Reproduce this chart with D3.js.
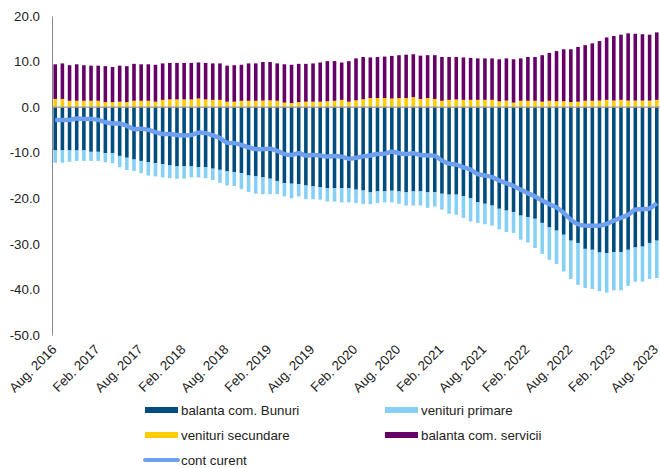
<!DOCTYPE html>
<html>
<head>
<meta charset="utf-8">
<script src="https://cdn.jsdelivr.net/npm/d3@7"></script>
<style>
  body { margin: 0; background: #fff; }
  text { font-family: "Liberation Sans", Arial, sans-serif; fill: #222; }
</style>
</head>
<body>
<svg width="660" height="468"></svg>
<script>
// monthly, Aug. 2016 .. Aug. 2023
var months = d3.timeMonth.range(new Date(2016, 7, 1), new Date(2023, 8, 1));

var tickLabels = ["Aug. 2016","Feb. 2017","Aug. 2017","Feb. 2018","Aug. 2018","Feb. 2019","Aug. 2019",
  "Feb. 2020","Aug. 2020","Feb. 2021","Aug. 2021","Feb. 2022","Aug. 2022","Feb. 2023","Aug. 2023"];

var yTicks = [20, 10, 0, -10, -20, -30, -40, -50];

var bunuri = [-9.5,-9.5,-9.5,-9.5,-9.5,-9.8,-9.8,-10.1,-10.1,-10.7,-11.1,-11.5,-11.8,-12.1,-12.3,-12.5,-12.8,-13.0,-13.0,-13.0,-13.2,-13.2,-13.5,
  -13.75,-14.1,-14.3,-14.5,-15.0,-15.2,-15.4,-15.7,-16.2,-16.7,-16.8,-16.9,-17.2,-17.4,-17.6,-17.8,-17.8,-17.8,-17.8,-18.1,-18.3,-18.7,-18.5,-18.5,-18.35,-18.5,-18.7,-18.5,
  -18.5,-18.7,-18.7,-19.0,-19.2,-19.2,-19.5,-20.0,-20.9,-21.2,-21.6,-22.3,-22.7,-23.0,-23.8,-24.1,-24.5,-25.4,-26.4,-27.1,-28.0,-29.3,-29.8,-31.1,-31.3,-31.9,-32.0,-31.8,-31.8,-31.3,-30.8,-30.6,-29.8,-29.3];

var primare = [-2.7,-2.7,-2.5,-2.3,-2.3,-2.0,-2.0,-2.0,-2.2,-2.5,-2.7,-2.5,-2.7,-2.9,-2.9,-2.9,-2.8,-2.7,-2.7,-2.4,-2.2,-2.4,-2.5,
  -2.85,-3.1,-3.0,-3.5,-3.6,-3.8,-3.7,-3.4,-2.9,-2.9,-3.2,-2.7,-3.0,-2.8,-2.7,-2.9,-2.9,-3.1,-3.1,-2.95,-3.0,-2.6,-2.55,-2.4,-2.55,-2.7,-2.9,-3.1,
  -3.1,-3.4,-3.1,-3.5,-4.2,-4.4,-4.8,-5.1,-4.5,-4.5,-4.4,-4.5,-4.7,-4.6,-5.3,-5.6,-6.4,-6.8,-7.1,-7.3,-8.05,-8.4,-9.2,-8.6,-8.6,-8.5,-8.7,-8.4,-8.4,-7.9,-7.5,-7.7,-7.9,-8.2];

var secundare = [1.8,1.8,1.4,1.4,1.4,1.4,1.4,1.1,1.1,1.2,1.1,1.4,1.4,1.4,1.2,1.6,1.7,1.7,1.7,1.7,1.9,1.7,1.6,
  1.6,1.2,1.2,1.4,1.4,1.4,1.45,1.5,1.4,1.0,0.9,1.1,1.2,1.2,1.2,1.3,1.4,1.6,1.2,1.5,1.75,2.0,2.0,2.0,1.9,2.0,2.0,2.2,
  1.8,2.0,1.8,1.4,1.6,1.7,1.6,1.6,1.6,1.6,1.6,1.3,1.45,1.0,1.4,1.4,1.4,1.2,1.4,1.3,1.3,1.1,1.2,1.4,1.4,1.45,1.6,1.45,1.6,1.45,1.45,1.45,1.45,1.6];

var servicii = [7.6,7.8,7.8,8.0,7.8,7.7,7.7,7.9,7.7,7.9,7.9,8.1,8.0,8.0,8.1,8.0,8.0,8.0,8.0,8.0,7.9,8.0,8.0,
  8.0,7.9,8.0,7.9,8.2,8.2,8.45,8.4,8.2,8.4,8.4,8.4,8.3,8.4,8.6,8.8,8.7,8.2,8.9,9.2,9.25,8.9,9.0,9.1,9.35,9.4,9.5,9.4,
  9.5,9.4,9.6,9.6,9.4,9.3,9.3,9.2,9.1,9.1,9.1,9.2,9.25,9.5,9.3,9.6,9.6,10.2,10.5,11.0,11.4,11.6,12.0,12.2,12.6,13.05,13.7,14.15,14.3,14.75,14.65,14.55,14.45,14.8];

var contCurent = [-2.8,-2.8,-2.8,-2.5,-2.6,-2.6,-2.8,-3.3,-3.6,-3.6,-4.1,-4.8,-4.75,-5.0,-5.5,-5.9,-5.9,-6.1,-6.2,-6.1,-5.6,-5.7,-6.2,
  -6.8,-7.8,-7.9,-8.3,-8.8,-9.2,-9.2,-9.15,-9.6,-10.3,-10.5,-10.1,-10.6,-10.5,-10.6,-10.85,-10.7,-10.85,-11.3,-11.1,-10.8,-10.6,-10.3,-10.2,-9.8,-10.1,-10.3,-10.1,
  -10.5,-10.6,-10.7,-11.7,-12.4,-12.6,-13.2,-13.7,-14.7,-15.0,-15.35,-16.1,-16.7,-17.3,-18.1,-18.9,-19.6,-20.5,-21.3,-22.0,-23.2,-24.7,-25.7,-26.0,-26.0,-26.0,-25.6,-24.9,-24.3,-23.6,-22.5,-22.4,-22.2,-21.05];

var seriesNames = ["balanta com. Bunuri", "venituri primare", "venituri secundare", "balanta com. servicii"];
var lineName = "cont curent";
var colors = ["#004c7f", "#87d0f5", "#ffcc00", "#660066"];
var lineColor = "#6fa0ef";

var rows = months.map(function(m, i) {
  return { i: i, bunuri: bunuri[i], primare: primare[i], secundare: secundare[i], servicii: servicii[i] };
});

var svg = d3.select("svg");
// plot box (window.top is reserved, so no "top" here)
var plotLeft = 52, plotRight = 660, plotTop = 16, plotBottom = 335;

var x = d3.scaleBand()
    .domain(months.map(function(d, i) { return i; }))
    .range([plotLeft, plotRight])
    .paddingInner(0.5)
    .paddingOuter(0.2);

var y = d3.scaleLinear().domain([-50, 20]).range([plotBottom, plotTop]);

var stack = d3.stack()
    .keys(["bunuri", "primare", "secundare", "servicii"])
    .offset(d3.stackOffsetDiverging);

var layers = stack(rows);

svg.append("g").selectAll("g")
    .data(layers)
  .enter().append("g")
    .attr("fill", function(d, k) { return colors[k]; })
  .selectAll("rect")
    .data(function(d) { return d; })
  .enter().append("rect")
    .attr("x", function(d) { return x(d.data.i); })
    .attr("width", x.bandwidth())
    .attr("y", function(d) { return y(d[1]); })
    .attr("height", function(d) { return y(d[0]) - y(d[1]); });

// zero line
svg.append("line")
    .attr("x1", plotLeft).attr("x2", plotRight)
    .attr("y1", y(0)).attr("y2", y(0))
    .attr("stroke", "#999").attr("stroke-width", 1.3);

// y axis
var yAxis = svg.append("g")
    .attr("transform", "translate(" + plotLeft + ",0)")
    .call(d3.axisLeft(y).tickValues(yTicks).tickSize(0).tickSizeOuter(0).tickPadding(12)
      .tickFormat(function(d) { return d.toFixed(1); }));
yAxis.select(".domain").attr("stroke", "#888");
yAxis.selectAll("text").style("font-size", "13.3px").style("font-family", "Liberation Sans, Arial, sans-serif").attr("fill", "#222");

// x axis, a label every 6 months
var xAxis = svg.append("g")
    .attr("transform", "translate(0," + plotBottom + ")")
    .call(d3.axisBottom(x)
      .tickValues(d3.range(0, months.length, 6))
      .tickSize(0)
      .tickFormat(function(d) { return tickLabels[d / 6]; }));
xAxis.select(".domain").remove();
xAxis.selectAll("text")
    .attr("y", 0).attr("dy", "0.35em")
    .attr("transform", "translate(-1,12) rotate(-45)")
    .attr("text-anchor", "end")
    .style("font-size", "13.3px")
    .style("font-family", "Liberation Sans, Arial, sans-serif")
    .attr("fill", "#222");

// cont curent line
var line = d3.line()
    .x(function(d, i) { return x(i) + x.bandwidth() / 2; })
    .y(function(d) { return y(d); })
    .curve(d3.curveCatmullRom.alpha(0.5));

svg.append("path")
    .datum(contCurent)
    .attr("fill", "none")
    .attr("stroke", lineColor)
    .attr("stroke-width", 4.5)
    .attr("stroke-linejoin", "round")
    .attr("d", line);

// legend
var legendItems = [
  { name: seriesNames[0], color: colors[0], col: 0, row: 0 },
  { name: seriesNames[1], color: colors[1], col: 1, row: 0 },
  { name: seriesNames[2], color: colors[2], col: 0, row: 1 },
  { name: seriesNames[3], color: colors[3], col: 1, row: 1 },
  { name: lineName, color: lineColor, col: 0, row: 2, isLine: true }
];

var legend = svg.append("g").selectAll("g")
    .data(legendItems)
  .enter().append("g")
    .attr("transform", function(d) { return "translate(" + (145 + d.col * 240) + "," + (410 + d.row * 25) + ")"; });

legend.filter(function(d) { return !d.isLine; }).append("rect")
    .attr("x", 0).attr("y", -3).attr("width", 33).attr("height", 6)
    .attr("fill", function(d) { return d.color; });

legend.filter(function(d) { return d.isLine; }).append("line")
    .attr("x1", 0).attr("x2", 33).attr("y1", 0).attr("y2", 0)
    .attr("stroke", function(d) { return d.color; })
    .attr("stroke-width", 4).attr("stroke-linecap", "round");

legend.append("text")
    .attr("x", 36).attr("y", 0).attr("dy", "0.35em")
    .style("font-size", "13.3px")
    .text(function(d) { return d.name; });
</script>
</body>
</html>
